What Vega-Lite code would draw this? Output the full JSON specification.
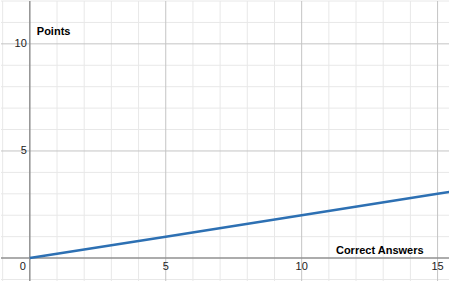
{
  "$schema": "https://vega.github.io/schema/vega-lite/v6.json",
  "width": 450,
  "height": 282,
  "autosize": {"type": "fit", "contains": "padding"},
  "padding": 0,
  "background": "#ffffff",
  "config": {"view": {"stroke": null}},
  "datasets": {
    "vminor": [{"v": -1}, {"v": 1}, {"v": 2}, {"v": 3}, {"v": 4}, {"v": 6}, {"v": 7}, {"v": 8}, {"v": 9}, {"v": 11}, {"v": 12}, {"v": 13}, {"v": 14}],
    "hminor": [{"v": -1}, {"v": 1}, {"v": 2}, {"v": 3}, {"v": 4}, {"v": 6}, {"v": 7}, {"v": 8}, {"v": 9}, {"v": 11}, {"v": 12}],
    "vmajor": [{"v": 5}, {"v": 10}, {"v": 15}],
    "hmajor": [{"v": 5}, {"v": 10}],
    "zero": [{"v": 0}],
    "line": [{"x": 0, "y": 0}, {"x": 5, "y": 1}, {"x": 10, "y": 2}, {"x": 15, "y": 3}, {"x": 15.6, "y": 3.12}],
    "xlabels": [{"x": 5, "t": "5"}, {"x": 10, "t": "10"}, {"x": 15, "t": "15"}],
    "ylabels": [{"y": 5, "t": "5"}, {"y": 10, "t": "10"}],
    "origin": [{"x": 0, "y": 0, "t": "0"}],
    "titles": [{"x": 0, "y": 10.55, "t": "Points"}],
    "xtitle": [{"x": 15, "y": 0, "t": "Correct Answers"}]
  },
  "layer": [
    {
      "data": {"name": "vminor"},
      "mark": {"type": "rule", "color": "#e8e8e8", "strokeWidth": 1},
      "encoding": {"x": {"field": "v", "type": "quantitative", "scale": {"domain": [-1.06, 15.42], "nice": false, "zero": false}, "axis": null}}
    },
    {
      "data": {"name": "hminor"},
      "mark": {"type": "rule", "color": "#e8e8e8", "strokeWidth": 1},
      "encoding": {"y": {"field": "v", "type": "quantitative", "scale": {"domain": [-1.07, 12.0], "nice": false, "zero": false}, "axis": null}}
    },
    {
      "data": {"name": "vmajor"},
      "mark": {"type": "rule", "color": "#c4c4c4", "strokeWidth": 1},
      "encoding": {"x": {"field": "v", "type": "quantitative", "axis": null}}
    },
    {
      "data": {"name": "hmajor"},
      "mark": {"type": "rule", "color": "#c4c4c4", "strokeWidth": 1},
      "encoding": {"y": {"field": "v", "type": "quantitative", "axis": null}}
    },
    {
      "data": {"name": "zero"},
      "mark": {"type": "rule", "color": "#909090", "strokeWidth": 1.5},
      "encoding": {"x": {"field": "v", "type": "quantitative", "axis": null}}
    },
    {
      "data": {"name": "zero"},
      "mark": {"type": "rule", "color": "#909090", "strokeWidth": 1.5},
      "encoding": {"y": {"field": "v", "type": "quantitative", "axis": null}}
    },
    {
      "data": {"name": "line"},
      "mark": {"type": "line", "color": "#2d70b3", "strokeWidth": 2.5, "clip": true},
      "encoding": {
        "x": {"field": "x", "type": "quantitative", "axis": null},
        "y": {"field": "y", "type": "quantitative", "axis": null}
      }
    },
    {
      "data": {"name": "xlabels"},
      "mark": {"type": "text", "font": "Liberation Sans", "fontSize": 11, "color": "#222", "baseline": "middle", "align": "center", "dy": 9},
      "encoding": {
        "x": {"field": "x", "type": "quantitative", "axis": null},
        "y": {"datum": 0, "type": "quantitative", "axis": null},
        "text": {"field": "t"}
      }
    },
    {
      "data": {"name": "ylabels"},
      "mark": {"type": "text", "font": "Liberation Sans", "fontSize": 11, "color": "#222", "baseline": "middle", "align": "right", "dx": -3},
      "encoding": {
        "x": {"datum": 0, "type": "quantitative", "axis": null},
        "y": {"field": "y", "type": "quantitative", "axis": null},
        "text": {"field": "t"}
      }
    },
    {
      "data": {"name": "origin"},
      "mark": {"type": "text", "font": "Liberation Sans", "fontSize": 11, "color": "#222", "baseline": "middle", "align": "right", "dx": -4, "dy": 9},
      "encoding": {
        "x": {"field": "x", "type": "quantitative", "axis": null},
        "y": {"field": "y", "type": "quantitative", "axis": null},
        "text": {"field": "t"}
      }
    },
    {
      "data": {"name": "titles"},
      "mark": {"type": "text", "font": "Liberation Sans", "fontSize": 11, "fontWeight": "bold", "color": "#000", "baseline": "middle", "align": "left", "dx": 7},
      "encoding": {
        "x": {"field": "x", "type": "quantitative", "axis": null},
        "y": {"field": "y", "type": "quantitative", "axis": null},
        "text": {"field": "t"}
      }
    },
    {
      "data": {"name": "xtitle"},
      "mark": {"type": "text", "font": "Liberation Sans", "fontSize": 11, "fontWeight": "bold", "color": "#000", "baseline": "middle", "align": "right", "dx": -14, "dy": -7},
      "encoding": {
        "x": {"field": "x", "type": "quantitative", "axis": null},
        "y": {"field": "y", "type": "quantitative", "axis": null},
        "text": {"field": "t"}
      }
    }
  ]
}
